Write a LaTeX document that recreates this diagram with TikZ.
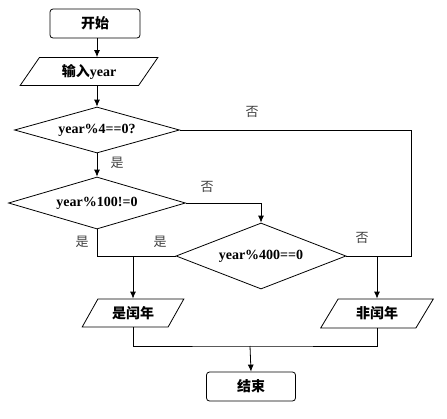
\documentclass[tikz,border=0pt]{standalone}
\usepackage{fontspec}
\setmainfont{Liberation Serif}
\newfontfamily\cjk{Noto Sans CJK SC}
\newcommand\zh[1]{{\cjk #1}}
\usetikzlibrary{shapes.geometric}
\usetikzlibrary{arrows.meta}

\begin{document}
\begin{tikzpicture}[x=1pt, y=-1pt, line width=0.8pt,
	every node/.style = {font=\fontsize{14}{16}\selectfont\bfseries, inner sep=0pt},
	term/.style = {draw, rectangle, rounded corners=3pt, minimum width=90pt, minimum height=29pt},
	io/.style = {draw, trapezium, trapezium left angle=55, trapezium right angle=125, trapezium stretches=true, minimum height=28pt},
	cond/.style = {draw, diamond, aspect=3.5},
	lbl/.style = {font=\fontsize{13}{15}\selectfont\mdseries\cjk, text=black!75},
	arr/.style = {-{Latex[length=7pt, width=6pt]}}]
	\useasboundingbox (0,0) rectangle (447,418);
	\node[term] (1) at (95,23.5) {\zh{开始}};
	\node[io, minimum width=138pt] (2) at (89,71.5) {\zh{输入}year};
	\node[cond, minimum width=165pt, minimum height=46pt] (3) at (97,130) {year\%4==0?};
	\node[cond, minimum width=177pt, minimum height=52pt] (4) at (97,203) {year\%100!=0};
	\node[cond, minimum width=170pt, minimum height=66pt] (5) at (261,256) {year\%400==0};
	\node[io, minimum width=102pt] (6) at (133,313) {\zh{是闰年}};
	\node[io, minimum width=113pt, minimum height=29pt] (7) at (377,313.5) {\zh{非闰年}};
	\node[term, minimum width=89pt] (8) at (251,386.5) {\zh{结束}};
	\coordinate (c1) at (411,130);
	\coordinate (c2) at (250,346);
	% connectors
	\draw[arr] (1.south -| 3.north) -- (2.north -| 3.north);
	\draw[arr] (2.south -| 3.north) -- (3.north);
	\draw[arr] (3.south) -- (4.north);
	\draw (3.east) -- (c1) |- (5.east);
	\draw[arr] (4.east) -| (5.north);
	\draw (4.south) |- (5.west);
	\draw[arr] (6.north |- 5.west) -- (6.north);
	\draw[arr] (7.north |- 5.east) -- (7.north);
	\draw (6.south) |- (c2) -| (7.south);
	\draw[arr] (c2) -- (8.north);
	% labels
	\node[lbl] at (117,163) {是};
	\node[lbl] at (252,112) {否};
	\node[lbl] at (207,187) {否};
	\node[lbl] at (82,242) {是};
	\node[lbl] at (160,242) {是};
	\node[lbl] at (362,238) {否};
\end{tikzpicture}
\end{document}
